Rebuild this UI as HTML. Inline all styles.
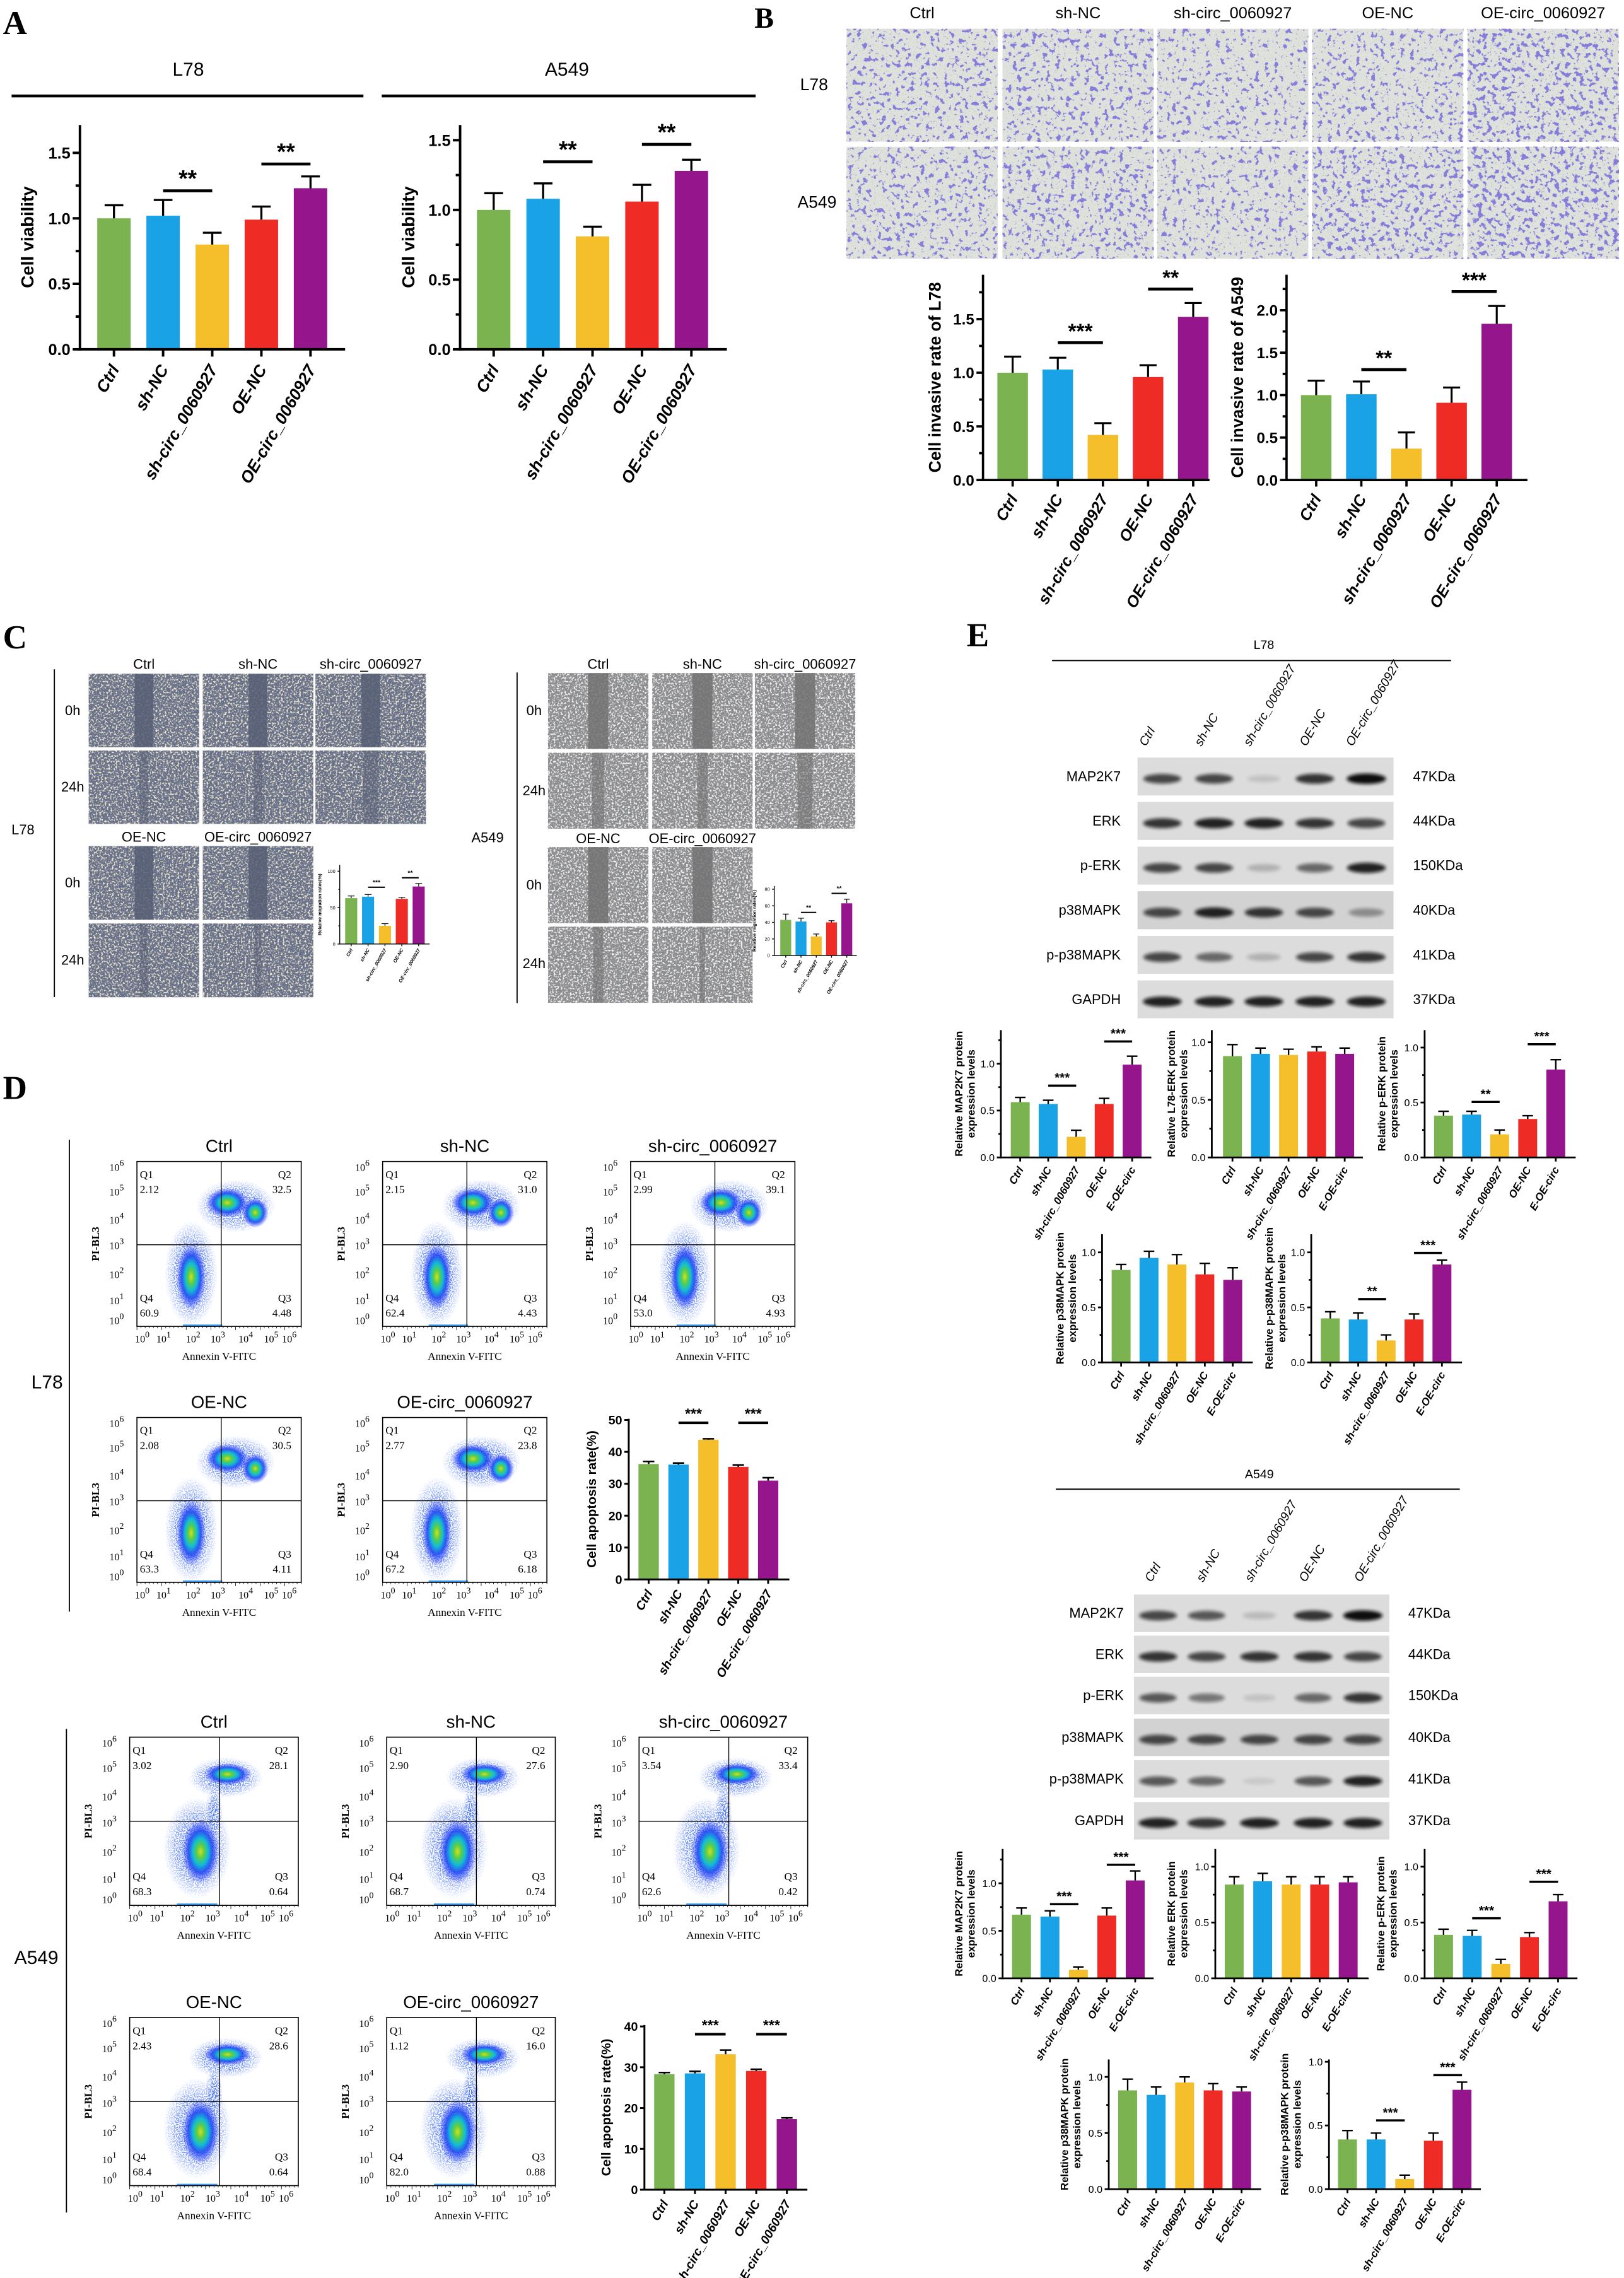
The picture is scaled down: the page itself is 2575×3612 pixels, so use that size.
<!DOCTYPE html>
<html><head><meta charset="utf-8"><title>Figure</title>
<style>html,body{margin:0;padding:0;background:#fff}svg{display:block}</style></head>
<body>
<svg id="fig" xmlns="http://www.w3.org/2000/svg" width="2575" height="3612" viewBox="0 0 1117.14 1567.03" preserveAspectRatio="none">
<defs>
  <radialGradient id="jet">
    <stop offset="0" stop-color="#d8de20"/>
    <stop offset="0.2" stop-color="#5ccf45"/>
    <stop offset="0.42" stop-color="#12bcd6"/>
    <stop offset="0.65" stop-color="#1840f0" stop-opacity="0.85"/>
    <stop offset="1" stop-color="#2030ff" stop-opacity="0"/>
  </radialGradient>
  <radialGradient id="halo">
    <stop offset="0" stop-color="#fff" stop-opacity="1"/>
    <stop offset="0.6" stop-color="#fff" stop-opacity="0.7"/>
    <stop offset="1" stop-color="#fff" stop-opacity="0"/>
  </radialGradient>
  <filter id="speck" x="-5%" y="-5%" width="110%" height="110%">
    <feTurbulence type="fractalNoise" baseFrequency="1.3" numOctaves="1" seed="5" result="n"/>
    <feColorMatrix in="n" type="matrix" values="0 0 0 0 0.05  0 0 0 0 0.15  0 0 0 0 0.95  9 0 0 0 -4.1" result="d"/>
    <feComposite in="d" in2="SourceGraphic" operator="in"/>
  </filter>
  <filter id="bandblur" x="-30%" y="-100%" width="160%" height="300%"><feGaussianBlur stdDeviation="1.1"/></filter>
</defs>
</svg>
<script>
const NS='http://www.w3.org/2000/svg';
const svg=document.getElementById('fig');
const defs=svg.querySelector('defs');
const COLORS=['#7ab350','#19a3e6','#f5be2b','#ee2b25','#95168c'];

/* ---------------- data ---------------- */
const groupsLong=["Ctrl","sh-NC","sh-circ_0060927","OE-NC","OE-circ_0060927"];
const groupsE=["Ctrl","sh-NC","sh-circ_0060927","OE-NC","E-OE-circ"];
const viabL78=[1.0,1.02,0.80,0.99,1.23];
const viabL78Err=[0.10,0.12,0.09,0.10,0.09];
const viabA549=[1.0,1.08,0.81,1.06,1.28];
const viabA549Err=[0.12,0.11,0.07,0.12,0.08];
const invL78=[1.0,1.03,0.42,0.96,1.52];
const invL78Err=[0.15,0.11,0.11,0.11,0.13];
const invA549=[1.0,1.01,0.37,0.91,1.84];
const invA549Err=[0.17,0.15,0.19,0.18,0.21];
const migL78=[63,65,25,62,79];
const migL78Err=[3,3,3,2,4];
const migA549=[43,41,23,40,63];
const migA549Err=[7,4,3,2,5];
const apoL78=[36.2,36.0,43.8,35.3,31.0];
const apoL78Err=[0.8,0.5,0.3,0.6,0.9];
const apoA549=[28.3,28.5,33.2,29.1,17.3];
const apoA549Err=[0.4,0.5,1.0,0.4,0.3];
const eL78Map2k7=[0.59,0.57,0.22,0.57,0.99];
const eL78Map2k7Err=[0.05,0.04,0.07,0.06,0.09];
const eL78Erk=[0.88,0.90,0.89,0.92,0.90];
const eL78ErkErr=[0.10,0.05,0.05,0.04,0.05];
const eL78pErk=[0.38,0.39,0.21,0.35,0.80];
const eL78pErkErr=[0.04,0.03,0.04,0.03,0.09];
const eL78p38=[0.84,0.95,0.89,0.80,0.75];
const eL78p38Err=[0.05,0.06,0.09,0.10,0.11];
const eL78pp38=[0.40,0.39,0.20,0.39,0.89];
const eL78pp38Err=[0.06,0.06,0.05,0.05,0.04];
const eA549Map2k7=[0.67,0.65,0.09,0.66,1.03];
const eA549Map2k7Err=[0.07,0.06,0.03,0.08,0.10];
const eA549Erk=[0.84,0.87,0.84,0.84,0.86];
const eA549ErkErr=[0.07,0.07,0.07,0.07,0.05];
const eA549pErk=[0.39,0.38,0.13,0.37,0.69];
const eA549pErkErr=[0.05,0.05,0.04,0.04,0.06];
const eA549p38=[0.88,0.84,0.95,0.88,0.87];
const eA549p38Err=[0.10,0.07,0.05,0.06,0.04];
const eA549pp38=[0.39,0.39,0.08,0.38,0.78];
const eA549pp38Err=[0.07,0.05,0.03,0.06,0.06];
const sigA1=[[1,2,1.21,'**'],[3,4,1.415,'**']];
const sigA2=[[1,2,1.345,'**'],[3,4,1.47,'**']];
const sigB1=[[1,2,1.28,'***'],[3,4,1.78,'**']];
const sigB2=[[1,2,1.30,'**'],[3,4,2.22,'***']];
const sigC1=[[1,2,78,'***'],[3,4,91,'**']];
const sigC2=[[1,2,52,'**'],[3,4,75,'**']];
const sigD1=[[1,2,49.1,'***'],[3,4,49.1,'***']];
const sigD2=[[1,2,38.1,'***'],[3,4,38.1,'***']];
const sigEL1=[[1,2,0.766,'***'],[3,4,1.237,'***']];
const sigEL3=[[1,2,0.505,'**'],[3,4,1.03,'***']];
const sigEL5=[[1,2,0.575,'**'],[3,4,0.995,'***']];
const sigEA1=[[1,2,0.78,'***'],[3,4,1.195,'***']];
const sigEA3=[[1,2,0.538,'***'],[3,4,0.865,'***']];
const sigEA5=[[1,2,0.54,'***'],[3,4,0.895,'***']];
const ticks15=[0,0.5,1.0,1.5];
const ticks20=[0,0.5,1.0,1.5,2.0];
const ticks100=[0,50,100];
const ticks80=[0,20,40,60,80];
const ticks50=[0,10,20,30,40,50];
const ticks40=[0,10,20,30,40];
const ticksE=[0,0.5,1.0];
const quadL78=[[2.12,32.5,60.9,4.48],[2.15,31.0,62.4,4.43],[2.99,39.1,53.0,4.93],[2.08,30.5,63.3,4.11],[2.77,23.8,67.2,6.18]];
const quadA549=[[3.02,28.1,68.3,0.64],[2.90,27.6,68.7,0.74],[3.54,33.4,62.6,0.42],[2.43,28.6,68.4,0.64],[1.12,16.0,82.0,0.88]];
const blotRows=["MAP2K7","ERK","p-ERK","p38MAPK","p-p38MAPK","GAPDH"];
const blotKDa=["47KDa","44KDa","150KDa","40KDa","41KDa","37KDa"];
const bandsL78=[[0.85,0.85,0.35,0.9,1.0],[0.9,0.95,0.95,0.9,0.85],[0.85,0.85,0.45,0.75,0.95],[0.85,0.95,0.9,0.85,0.6],[0.85,0.75,0.45,0.85,0.9],[0.95,0.95,0.95,0.95,0.95]];
const bandsA549=[[0.85,0.8,0.4,0.9,1.0],[0.9,0.85,0.9,0.9,0.85],[0.8,0.7,0.35,0.75,0.9],[0.85,0.85,0.85,0.85,0.85],[0.8,0.75,0.3,0.8,0.95],[0.95,0.9,0.95,0.95,0.95]];
const invDensL78=[0.5,0.55,0.35,0.5,0.8];
const invDensA549=[0.55,0.65,0.4,0.7,0.9];

/* ---------------- helpers ---------------- */
function mk(tag,attrs,parent){const e=document.createElementNS(NS,tag);for(const k in attrs)e.setAttribute(k,attrs[k]);(parent||svg).appendChild(e);return e;}
function txt(x,y,s,o,name,parent){
  const t=mk('text',{x:x,y:y,'font-size':o.fs||10,'font-family':o.ff||'"Liberation Sans", sans-serif','text-anchor':o.a||'start','font-weight':o.w||'normal','font-style':o.st||'normal',fill:o.fill||'#000'},parent);
  if(o.rot!==undefined)t.setAttribute('transform','rotate('+o.rot+' '+x+' '+y+')');
  t.textContent=s;
  
  
  return t;
}
function hline(x1,x2,y,w,name){const l=mk('line',{x1:x1,x2:x2,y1:y,y2:y,stroke:'#000','stroke-width':w});
  
  return l;}
function vline(x,y1,y2,w,name){const l=mk('line',{x1:x,x2:x,y1:y1,y2:y2,stroke:'#000','stroke-width':w});
  
  return l;}

/* ---------------- bar chart ---------------- */
function chart(c,vals,errs,cats,ticks,sigs){
  const g=mk('g',{});
  
  
  const yv=v=>c.y0-v*c.ppu, xi=i=>c.x0+i*c.step;
  const topV=(c.y0-c.top)/c.ppu;
  vals.forEach((v,i)=>{
    const b=mk('rect',{x:xi(i)-c.bw/2,y:yv(v),width:c.bw,height:v*c.ppu,fill:COLORS[i]},g);
    
    
    const e=mk('path',{d:'M'+xi(i)+' '+yv(v)+'V'+yv(v+errs[i])+'M'+(xi(i)-c.bw*0.28)+' '+yv(v+errs[i])+'H'+(xi(i)+c.bw*0.28),stroke:'#000','stroke-width':c.lw*0.85,fill:'none'},g);
    
    
  });
  const ya=mk('path',{d:'M'+c.ax+' '+(c.y0+c.lw/2)+'V'+c.top,stroke:'#000','stroke-width':c.lw,fill:'none'},g);
  
  
  const xa=mk('path',{d:'M'+(c.ax-c.lw/2)+' '+c.y0+'H'+c.xend,stroke:'#000','stroke-width':c.lw,fill:'none'},g);
  
  
  ticks.forEach(t=>{
    const tk=mk('line',{x1:c.ax-c.tl,x2:c.ax,y1:yv(t),y2:yv(t),stroke:'#000','stroke-width':c.lw},g);
    
    
    txt(c.ax-c.tl-1.5,yv(t)+c.fs*0.36,t.toFixed(c.dec),{fs:c.fs,a:'end',w:c.tw||'bold'},'y-tick-label',g);
  });
  if(c.minor){
    for(let m=c.minor;m<=topV+1e-6;m+=c.minor){
      if(ticks.some(t=>Math.abs(t-m)<1e-6))continue;
      const mt=mk('line',{x1:c.ax-c.tl*0.6,x2:c.ax,y1:yv(m),y2:yv(m),stroke:'#000','stroke-width':c.lw},g);
      
      
    }
  }
  cats.forEach((s,i)=>{
    const xt=mk('line',{x1:xi(i),x2:xi(i),y1:c.y0,y2:c.y0+c.tl,stroke:'#000','stroke-width':c.lw},g);
    
    
    txt(xi(i)+c.xfs*0.35,c.y0+c.tl+c.xfs*0.75,s,{fs:c.xfs,a:'end',w:'bold',st:'italic',rot:-60},'x-tick-label',g);
  });
  sigs.forEach(s=>{
    const sl=mk('line',{x1:xi(s[0]),x2:xi(s[1]),y1:yv(s[2]),y2:yv(s[2]),stroke:'#000','stroke-width':c.slw},g);
    
    
    txt((xi(s[0])+xi(s[1]))/2,yv(s[2])-c.slw-1,s[3],{fs:c.sfs,a:'middle',w:'bold'},'significance-stars',g);
  });
  const tc=c.tcy!==undefined?c.tcy:(c.y0+c.top)/2;
  const titles=Array.isArray(c.title)?c.title:[c.title];
  const txs=Array.isArray(c.tx)?c.tx:[c.tx];
  titles.forEach((t,k)=>txt(txs[k],tc,t,{fs:c.tfs,a:'middle',w:'bold',rot:-90},'y-axis-title',g));
}

/* ---------------- textures ---------------- */
let fid=0;
function transwell(x,y,w,h,d,seed,name){
  fid++;
  const f=mk('filter',{id:'tw'+fid,x:0,y:0,width:1,height:1},defs);
  const thr=0.64-0.09*d;
  mk('feTurbulence',{type:'fractalNoise',baseFrequency:'0.3',numOctaves:3,seed:seed,result:'n'},f);
  mk('feColorMatrix',{in:'n',type:'matrix',values:'0 0 0 0 0.24  0 0 0 0 0.2  0 0 0 0 0.7  14 0 0 0 '+(-14*thr),result:'p'},f);
  mk('feTurbulence',{type:'fractalNoise',baseFrequency:'1.2',numOctaves:1,seed:seed+7,result:'n2'},f);
  mk('feColorMatrix',{in:'n2',type:'matrix',values:'0 0 0 0 0.5  0 0 0 0 0.5  0 0 0 0 0.52  6 0 0 0 -3.7',result:'gg'},f);
  const m=mk('feMerge',{},f);mk('feMergeNode',{in:'SourceGraphic'},m);mk('feMergeNode',{in:'gg'},m);mk('feMergeNode',{in:'p'},m);
  const r=mk('rect',{x:x,y:y,width:w,height:h,fill:'#dfe2dc',filter:'url(#tw'+fid+')'});
  
  
}
function wound(x,y,w,h,kind,gap,gapOp,seed,name){
  fid++;
  const f=mk('filter',{id:'wd'+fid,x:0,y:0,width:1,height:1},defs);
  mk('feTurbulence',{type:'fractalNoise',baseFrequency:'0.8',numOctaves:2,seed:seed,result:'n'},f);
  const light=kind==='L78'?'0 0 0 0 0.85  0 0 0 0 0.8  0 0 0 0 0.62  6 0 0 0 -3.1':'0 0 0 0 0.88  0 0 0 0 0.88  0 0 0 0 0.88  6 0 0 0 -3.0';
  mk('feColorMatrix',{in:'n',type:'matrix',values:light,result:'l'},f);
  mk('feColorMatrix',{in:'n',type:'matrix',values:'0 0 0 0 0.22  0 0 0 0 0.24  0 0 0 0 0.3  0 6 0 0 -3.4',result:'dk'},f);
  const m=mk('feMerge',{},f);mk('feMergeNode',{in:'SourceGraphic'},m);mk('feMergeNode',{in:'l'},m);mk('feMergeNode',{in:'dk'},m);
  const base=kind==='L78'?'#66708a':'#8e8e8e';
  const r=mk('rect',{x:x,y:y,width:w,height:h,fill:base,filter:'url(#wd'+fid+')'});
  
  
  const b=mk('rect',{x:x+w*0.5-w*gap/2,y:y,width:w*gap,height:h,fill:kind==='L78'?'#565e74':'#727272',opacity:gapOp});
  
  
}

/* ---------------- flow plot ---------------- */
let cid=0;
function flow(bx,by,w,h,q,vr,hr,kind,title,name){
  cid++;
  const g=mk('g',{});
  
  
  const cp=mk('clipPath',{id:'cp'+cid},defs);mk('rect',{x:bx,y:by,width:w,height:h},cp);
  const cl=mk('g',{'clip-path':'url(#cp'+cid+')'},g);
  const blobs=kind==='L78'?
    {halo:[[0.33,0.68,0.16,0.32],[0.6,0.27,0.24,0.16]],core:[[0.33,0.70,0.09,0.2],[0.55,0.25,0.13,0.09],[0.72,0.31,0.08,0.09]]}:
    {halo:[[0.4,0.66,0.2,0.3],[0.57,0.24,0.22,0.12],[0.5,0.45,0.05,0.15]],core:[[0.42,0.68,0.11,0.19],[0.58,0.22,0.14,0.065]]};
  blobs.halo.forEach(b=>{const e=mk('ellipse',{cx:bx+b[0]*w,cy:by+b[1]*h,rx:b[2]*w,ry:b[3]*h,fill:'url(#halo)',filter:'url(#speck)'},cl);
    
    });
  blobs.core.forEach(b=>{const e=mk('ellipse',{cx:bx+b[0]*w,cy:by+b[1]*h,rx:b[2]*w,ry:b[3]*h,fill:'url(#jet)'},cl);
    
    });
  const st=mk('line',{x1:bx+0.28*w,x2:bx+0.52*w,y1:by+h-0.8,y2:by+h-0.8,stroke:'#3aa0ff','stroke-width':1},cl);
  
  
  const box=mk('rect',{x:bx,y:by,width:w,height:h,fill:'none',stroke:'#000','stroke-width':0.7},g);
  
  
  const v=mk('line',{x1:bx+vr*w,x2:bx+vr*w,y1:by,y2:by+h,stroke:'#000','stroke-width':0.6},g);
  
  
  const hh=mk('line',{x1:bx,x2:bx+w,y1:by+hr*h,y2:by+hr*h,stroke:'#000','stroke-width':0.6},g);
  
  
  const SF='"Liberation Serif", serif';
  txt(bx+2,by+0.1*h,'Q1',{fs:7.5,ff:SF},'q1-label',g);
  txt(bx+2,by+0.19*h,q[0].toFixed(2),{fs:7.5,ff:SF},'q1-value',g);
  txt(bx+w-0.06*w,by+0.1*h,'Q2',{fs:7.5,ff:SF,a:'end'},'q2-label',g);
  txt(bx+w-0.06*w,by+0.19*h,q[1].toFixed(1),{fs:7.5,ff:SF,a:'end'},'q2-value',g);
  txt(bx+2,by+0.85*h,'Q4',{fs:7.5,ff:SF},'q4-label',g);
  txt(bx+2,by+0.94*h,q[2].toFixed(1),{fs:7.5,ff:SF},'q4-value',g);
  txt(bx+w-0.06*w,by+0.85*h,'Q3',{fs:7.5,ff:SF,a:'end'},'q3-label',g);
  txt(bx+w-0.06*w,by+0.94*h,q[3].toFixed(2),{fs:7.5,ff:SF,a:'end'},'q3-value',g);
  const ypos=[0.96,0.84,0.68,0.505,0.35,0.18,0.03];
  ypos.forEach((p,k)=>{
    const t=txt(bx-9,by+p*h+3,'10',{fs:7,ff:SF,a:'end'},'y-tick-label',g);
    const s=mk('tspan',{dy:-3.5,'font-size':6},t);s.textContent=String(k);
  });
  const xpos=[0.05,0.18,0.36,0.51,0.68,0.835,0.945];
  xpos.forEach((p,k)=>{
    const t=txt(bx+p*w-2,by+h+11,'10',{fs:7,ff:SF,a:'middle'},'x-tick-label',g);
    const s=mk('tspan',{dy:-3.5,'font-size':6},t);s.textContent=String(k);
  });
  for(let k=0;k<=40;k++){
    const tx=bx+k*w/40;
    const tl=mk('line',{x1:tx,x2:tx,y1:by+h,y2:by+h+(k%6===0?2.5:1.3),stroke:'#000','stroke-width':0.35},g);
    
    
  }
  txt(bx-26,by+h/2,'PI-BL3',{fs:7.5,ff:SF,a:'middle',w:'bold',rot:-90},'y-axis-title',g);
  txt(bx+w/2,by+h+23,'Annexin V-FITC',{fs:7.5,ff:SF,a:'middle'},'x-axis-title',g);
  txt(bx+w/2,by-6.5,title,{fs:12,a:'middle'},'plot-title',g);
}

/* ---------------- blot ---------------- */
function blot(x0,x1,rowsY,rowH,lanes,bands,labX,kdaX,name){
  const g=mk('g',{});
  
  
  rowsY.forEach((ry,r)=>{
    const bg=mk('rect',{x:x0,y:ry,width:x1-x0,height:rowH,fill:r===3?'#d2d2d2':'#dcdcdc'},g);
    
    
    bands[r].forEach((it,i)=>{
      const e=mk('ellipse',{cx:lanes[i],cy:ry+rowH*0.56,rx:13.5*(0.75+0.25*it),ry:1.8+1.8*it,fill:'#111',opacity:it*it,filter:'url(#bandblur)'},g);
      
      
    });
    txt(labX,ry+rowH*0.62,blotRows[r],{fs:9.5,a:'end'},'protein-label',g);
    txt(kdaX,ry+rowH*0.62,blotKDa[r],{fs:9.5},'molecular-weight',g);
  });
}

/* ================= PANEL A ================= */
const SERIF='"Liberation Serif", serif';
txt(2,23.5,'A',{fs:23,ff:SERIF,w:'bold'},'panel-label-a');
txt(129.5,52,'L78',{fs:13,a:'middle'},'cell-line-title');
txt(390,52,'A549',{fs:13,a:'middle'},'cell-line-title');
hline(8,250,66,2,'group-bracket');
hline(262.6,519.8,66,2,'group-bracket');
const base={tl:5,lw:1.7,fs:11,xfs:11.5,sfs:16,slw:2,tfs:12,dec:1,minor:0.25};
chart(Object.assign({},base,{name:'viability-chart-l78',x0:78.4,step:33.8,bw:23,ax:55,y0:240.3,ppu:90.1,top:86,xend:237.4,title:'Cell viability',tx:23}),viabL78,viabL78Err,groupsLong,ticks15,sigA1);
chart(Object.assign({},base,{name:'viability-chart-a549',x0:339.6,step:34,bw:23,ax:316.5,y0:240.3,ppu:95.9,top:86,xend:500,title:'Cell viability',tx:285}),viabA549,viabA549Err,groupsLong,ticks15,sigA2);

/* ================= PANEL B ================= */
txt(519,19,'B',{fs:20,ff:SERIF,w:'bold'},'panel-label-b');
const bCols=[582.3,689.6,796,902.6,1009.5];
bCols.forEach((x,i)=>{
  txt(x+52,12.5,groupsLong[i],{fs:11,a:'middle'},'column-header');
  transwell(x,19.8,104,77.6,invDensL78[i],11+i,'transwell-image-l78');
  transwell(x,101,104,77,invDensA549[i],31+i,'transwell-image-a549');
});
txt(560,62,'L78',{fs:11.5,a:'middle'},'row-label');
txt(562,143,'A549',{fs:11.5,a:'middle'},'row-label');
const baseB={tl:4.5,lw:1.6,fs:10.5,xfs:11,sfs:14.5,slw:2,tfs:11.5,dec:1,minor:0.25};
chart(Object.assign({},baseB,{name:'invasion-chart-l78',x0:696.6,step:31.05,bw:21,ax:676.2,y0:330.2,ppu:73.8,top:189,xend:832,title:'Cell invasive rate of L78',tx:647}),invL78,invL78Err,groupsLong,ticks15,sigB1);
chart(Object.assign({},baseB,{name:'invasion-chart-a549',x0:905.4,step:31.05,bw:21,ax:885,y0:330.2,ppu:58.4,top:189,xend:1050.7,title:'Cell invasive rate of A549',tx:855}),invA549,invA549Err,groupsLong,ticks20,sigB2);

/* ================= PANEL C ================= */
txt(2,446,'C',{fs:23,ff:SERIF,w:'bold'},'panel-label-c');
vline(37.4,460.4,685.9,0.8,'group-bracket');
vline(355.7,462.6,690,0.8,'group-bracket');
txt(15.8,574,'L78',{fs:9.5,a:'middle'},'row-label');
txt(335.4,579.5,'A549',{fs:9.5,a:'middle'},'row-label');
const cL78=[61,139.5,217], cA549=[377,448.7,519.3];
const gapL78_24=[0.08,0.08,0.14,0.07,0.06], gapA549_24=[0.12,0.1,0.15,0.1,0.05];
cL78.forEach((x,i)=>{
  txt(x+38,460,groupsLong[i],{fs:9.5,a:'middle'},'column-header');
  wound(x,463.5,76,50.5,'L78',0.17,0.85,50+i,'wound-image-l78-0h');
  wound(x,516.3,76,50.5,'L78',gapL78_24[i],0.5,60+i,'wound-image-l78-24h');
});
[0,1].forEach(i=>{
  txt(cL78[i]+38,579,groupsLong[i+3],{fs:9.5,a:'middle'},'column-header');
  wound(cL78[i],582,76,50.7,'L78',0.17,0.85,70+i,'wound-image-l78-0h');
  wound(cL78[i],635.3,76,50.7,'L78',gapL78_24[i+3],0.45,80+i,'wound-image-l78-24h');
});
cA549.forEach((x,i)=>{
  txt(x+34.5,460,groupsLong[i],{fs:9.5,a:'middle'},'column-header');
  wound(x,463,69,52.2,'A549',0.2,0.85,90+i,'wound-image-a549-0h');
  wound(x,517.8,69,52.2,'A549',gapA549_24[i],0.6,100+i,'wound-image-a549-24h');
});
[0,1].forEach(i=>{
  txt(cA549[i]+34.5,580,groupsLong[i+3],{fs:9.5,a:'middle'},'column-header');
  wound(cA549[i],582.7,69,52.3,'A549',0.2,0.85,110+i,'wound-image-a549-0h');
  wound(cA549[i],637.5,69,52.3,'A549',gapA549_24[i+3],0.6,120+i,'wound-image-a549-24h');
});
[[50,492],[50,544.5],[50,610.5],[50,663.5]].forEach((p,k)=>txt(p[0],p[1],k%2?'24h':'0h',{fs:9.5,a:'middle'},'time-label'));
[[367.4,492],[367.4,547],[367.4,612],[367.4,666]].forEach((p,k)=>txt(p[0],p[1],k%2?'24h':'0h',{fs:9.5,a:'middle'},'time-label'));
const baseC={tl:1.5,lw:0.6,fs:3.2,xfs:3.3,sfs:4.5,slw:0.9,tfs:3.3,dec:0,tw:'normal'};
chart(Object.assign({},baseC,{name:'migration-chart-l78',x0:241.6,step:11.6,bw:8.3,ax:233.7,y0:649.4,ppu:0.501,top:595,xend:295.6,title:'Relative migration rates(%)',tx:221,minor:25}),migL78,migL78Err,groupsLong,ticks100,sigC1);
chart(Object.assign({},baseC,{name:'migration-chart-a549',x0:540.5,step:10.5,bw:7.5,ax:532.6,y0:657.3,ppu:0.57,top:609.5,xend:589.4,title:'Relative migration rates(%)',tx:520,minor:0}),migA549,migA549Err,groupsLong,ticks80,sigC2);

/* ================= PANEL D ================= */
txt(2,756,'D',{fs:23,ff:SERIF,w:'bold'},'panel-label-d');
vline(47.7,784,1108.6,0.8,'group-bracket');
vline(45.7,1189.3,1522,0.8,'group-bracket');
txt(32.4,955,'L78',{fs:13,a:'middle'},'row-label');
txt(25,1351,'A549',{fs:13,a:'middle'},'row-label');
const fL78=[[94.2,799],[263.2,799],[433.8,799],[94.2,975.1],[263.2,975.1]];
fL78.forEach((p,i)=>flow(p[0],p[1],113,113.4,quadL78[i],0.513,0.505,'L78',groupsLong[i],'flow-plot-l78'));
const fA549=[[89.2,1195],[266,1195],[439.6,1195],[89.2,1387.8],[266,1387.8]];
fA549.forEach((p,i)=>flow(p[0],p[1],116,115.7,quadA549[i],0.532,0.5,'A549',groupsLong[i],'flow-plot-a549'));
const baseD={tl:3,lw:1.3,fs:8.5,xfs:8.5,sfs:10,slw:1.8,tfs:9,dec:0,minor:0};
chart(Object.assign({},baseD,{name:'apoptosis-chart-l78',x0:446.2,step:20.55,bw:14,ax:432.5,y0:1086.5,ppu:2.194,top:976,xend:543,title:'Cell apoptosis rate(%)',tx:410}),apoL78,apoL78Err,groupsLong,ticks50,sigD1);
chart(Object.assign({},baseD,{name:'apoptosis-chart-a549',x0:457,step:21.07,bw:14,ax:443.3,y0:1506.3,ppu:2.808,top:1393,xend:555.4,title:'Cell apoptosis rate(%)',tx:420}),apoA549,apoA549Err,groupsLong,ticks40,sigD2);

/* ================= PANEL E ================= */
txt(665,444.5,'E',{fs:23,ff:SERIF,w:'bold'},'panel-label-e');
txt(869.4,446.5,'L78',{fs:8.5,a:'middle'},'cell-line-title');
hline(723.7,998.2,454.4,0.9,'group-bracket');
const laneL78=[799.5,835.2,869.4,904.5,939.9];
const laneLabL78=[788.2,826.3,860,898.5,930.4];
laneLabL78.forEach((x,i)=>txt(x,513.8,groupsLong[i],{fs:8.5,st:'italic',rot:-60},'lane-label'));
blot(782.5,958.6,[521.1,551.7,582.4,613.1,643.8,674.4],26.1,laneL78,bandsL78,771,972,'western-blot-l78');
txt(866.3,1017,'A549',{fs:8.5,a:'middle'},'cell-line-title');
hline(726.3,1004.2,1024.4,0.9,'group-bracket');
const laneA549=[796.6,830,866.3,903.3,937.5];
const laneLabA549=[792.1,827.5,860.9,898.1,936];
laneLabA549.forEach((x,i)=>txt(x,1088.7,groupsLong[i],{fs:8.5,st:'italic',rot:-60},'lane-label'));
blot(780,955.7,[1096.9,1125.2,1153.5,1182.2,1210.8,1239.6],25.8,laneA549,bandsA549,773,968.7,'western-blot-a549');
const baseE={tl:2.8,lw:1.2,fs:7,xfs:7.3,sfs:9,slw:1.5,tfs:7.3,dec:1,minor:0.25,tw:'normal'};
chart(Object.assign({},baseE,{name:'map2k7-chart-l78',x0:701.8,step:19.25,bw:13,ax:688.5,y0:796.2,ppu:64.5,top:708.6,xend:792,title:['Relative MAP2K7 protein','expression levels'],tx:[662,670.5]}),eL78Map2k7,eL78Map2k7Err,groupsE,ticksE,sigEL1);
chart(Object.assign({},baseE,{name:'erk-chart-l78',x0:847.8,step:19.3,bw:13,ax:833.6,y0:796.2,ppu:79.2,top:708.6,xend:937.5,title:['Relative L78-ERK protein','expression levels'],tx:[808.3,816.8]}),eL78Erk,eL78ErkErr,groupsE,ticksE,[]);
chart(Object.assign({},baseE,{name:'perk-chart-l78',x0:993,step:19.3,bw:13,ax:980,y0:796.2,ppu:75.6,top:708.6,xend:1083.9,title:['Relative p-ERK protein','expression levels'],tx:[953,961.5]}),eL78pErk,eL78pErkErr,groupsE,ticksE,sigEL3);
chart(Object.assign({},baseE,{name:'p38mapk-chart-l78',x0:771.2,step:19.2,bw:13,ax:758.1,y0:937.2,ppu:75.7,top:849,xend:861.8,title:['Relative p38MAPK protein','expression levels'],tx:[731.7,740.2]}),eL78p38,eL78p38Err,groupsE,ticksE,[]);
chart(Object.assign({},baseE,{name:'pp38mapk-chart-l78',x0:915.1,step:19.2,bw:13,ax:902,y0:937.2,ppu:75.7,top:849,xend:1005.7,title:['Relative p-p38MAPK protein','expression levels'],tx:[875.6,884.1]}),eL78pp38,eL78pp38Err,groupsE,ticksE,sigEL5);
chart(Object.assign({},baseE,{name:'map2k7-chart-a549',x0:702.7,step:19.55,bw:13,ax:689.7,y0:1360.9,ppu:65.4,top:1271.9,xend:793.6,title:['Relative MAP2K7 protein','expression levels'],tx:[662,670.5]}),eA549Map2k7,eA549Map2k7Err,groupsE,ticksE,sigEA1);
chart(Object.assign({},baseE,{name:'erk-chart-a549',x0:849,step:19.6,bw:13,ax:836,y0:1360.9,ppu:76.8,top:1271.9,xend:941.5,title:['Relative ERK protein','expression levels'],tx:[808.3,816.8]}),eA549Erk,eA549ErkErr,groupsE,ticksE,[]);
chart(Object.assign({},baseE,{name:'perk-chart-a549',x0:993,step:19.7,bw:13,ax:980,y0:1360.9,ppu:76.8,top:1271.9,xend:1085.1,title:['Relative p-ERK protein','expression levels'],tx:[952.2,960.7]}),eA549pErk,eA549pErkErr,groupsE,ticksE,sigEA3);
chart(Object.assign({},baseE,{name:'p38mapk-chart-a549',x0:775.7,step:19.6,bw:13,ax:762.7,y0:1505.9,ppu:77.2,top:1416.7,xend:867.5,title:['Relative p38MAPK protein','expression levels'],tx:[734.7,743.2]}),eA549p38,eA549p38Err,groupsE,ticksE,[]);
chart(Object.assign({},baseE,{name:'pp38mapk-chart-a549',x0:926.9,step:19.7,bw:13,ax:914.2,y0:1505.9,ppu:87.6,top:1416.7,xend:1018.7,title:['Relative p-p38MAPK protein','expression levels'],tx:[886.2,894.7]}),eA549pp38,eA549pp38Err,groupsE,ticksE,sigEA5);
</script>
</body></html>
